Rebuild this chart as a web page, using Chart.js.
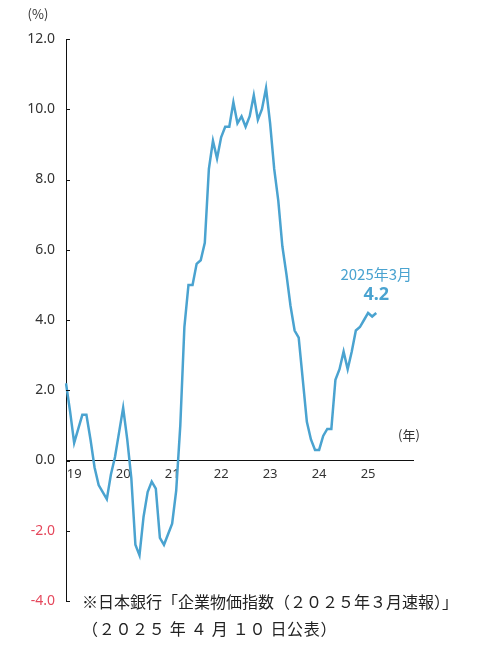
<!DOCTYPE html>
<html lang="ja">
<head>
<meta charset="utf-8">
<script src="https://cdn.jsdelivr.net/npm/chart.js@4.4.1/dist/chart.umd.min.js"></script>
<style>
  html, body { margin: 0; padding: 0; background: #fff; }
  #wrap { position: relative; width: 486px; height: 657px; }
  .note { position: absolute; left: 82px; font-family: 'Noto Sans CJK JP', sans-serif; font-size: 16px; color: #222; white-space: nowrap; line-height: 1; }
</style>
</head>
<body>
<div id="wrap">
  <canvas id="myChart" width="486" height="657"></canvas>
  <div class="note" style="top:593px">※日本銀行「企業物価指数（２０２５年３月速報）」</div>
  <div class="note" style="top:620px; letter-spacing:0.7px">（２０２５ 年 ４ 月 １０ 日公表）</div>
</div>
<script>
// x axis runs monthly from Nov 2018, a few empty months past the last value
const startYear = 2018
const startMonth = 11
const monthCount = 86
const yearTicks = ['19', '20', '21', '22', '23', '24', '25']

// 企業物価指数 前年比 (%), Nov 2018 .. Mar 2025
const cgpiYoY = [
  2.2, 1.4,
  0.5, 0.9, 1.3, 1.3, 0.6, -0.2, -0.7, -0.9, -1.1, -0.4, 0.1, 0.8,
  1.5, 0.6, -0.5, -2.4, -2.7, -1.6, -0.9, -0.6, -0.8, -2.2, -2.4, -2.1,
  -1.8, -0.85, 1.0, 3.8, 5.0, 5.0, 5.6, 5.7, 6.2, 8.3, 9.1, 8.6,
  9.2, 9.5, 9.5, 10.2, 9.6, 9.8, 9.5, 9.8, 10.4, 9.7, 10.0, 10.6,
  9.6, 8.3, 7.4, 6.1, 5.3, 4.4, 3.7, 3.5, 2.3, 1.1, 0.6, 0.3,
  0.3, 0.7, 0.9, 0.9, 2.3, 2.6, 3.1, 2.6, 3.1, 3.7, 3.8, 4.0,
  4.2, 4.1, 4.2
]
const latestLabel = '2025年3月'

const yMin = -4
const yMax = 12
const yStep = 2

const lineColor = '#4aa3d0'
const negColor = '#e5485c'
const textColor = '#333'

let monthLabels = []
for (let i = 0; i < monthCount; i++) {
  let m = startMonth - 1 + i
  let yy = startYear + Math.floor(m / 12)
  let mm = (m % 12) + 1
  monthLabels.push(yy + '-' + (mm < 10 ? '0' + mm : mm))
}

const extras = {
  id: 'extras',
  afterDraw(chart) {
    const {ctx, chartArea} = chart
    const y = chart.scales.y
    ctx.save()
    // small ticks pointing into the plot
    ctx.strokeStyle = '#111'
    ctx.lineWidth = 1
    y.ticks.forEach(t => {
      let py = Math.round(y.getPixelForValue(t.value)) + 0.5
      ctx.beginPath()
      ctx.moveTo(chartArea.left, py)
      ctx.lineTo(chartArea.left + 4, py)
      ctx.stroke()
    })
    // units
    ctx.fillStyle = textColor
    ctx.textAlign = 'center'
    ctx.textBaseline = 'middle'
    ctx.font = '13px "Noto Sans CJK JP"'
    ctx.fillText('(%)', chartArea.left - 28, chartArea.top - 25)
    ctx.fillText('(年)', chartArea.right - 4, y.getPixelForValue(0) - 25)
    // latest value callout
    const meta = chart.getDatasetMeta(0)
    const last = meta.data[meta.data.length - 1]
    ctx.fillStyle = lineColor
    ctx.font = '15px "Noto Sans CJK JP"'
    ctx.fillText(latestLabel, last.x, last.y - 39)
    ctx.font = 'bold 18px "Noto Sans"'
    ctx.fillText(cgpiYoY[cgpiYoY.length - 1].toFixed(1), last.x, last.y - 18)
    ctx.restore()
  }
}

const config = {
  type: 'line',
  data: {
    labels: monthLabels,
    datasets: [{
      label: '企業物価指数',
      data: cgpiYoY,
      borderColor: lineColor,
      borderWidth: 2.5,
      pointRadius: 0,
      tension: 0,
      fill: false
    }]
  },
  options: {
    responsive: false,
    animation: false,
    layout: { padding: { left: 0, top: 39, right: 73, bottom: 56 } },
    plugins: {
      legend: { display: false },
      tooltip: { enabled: false }
    },
    scales: {
      x: {
        type: 'category',
        position: { y: 0 },
        offset: false,
        grid: { display: false, drawTicks: false },
        border: { display: true, color: '#111', width: 1 },
        ticks: {
          autoSkip: false,
          maxRotation: 0,
          minRotation: 0,
          padding: 6,
          color: textColor,
          font: { family: 'Noto Sans', size: 13 },
          callback: function (val) {
            let lab = this.getLabelForValue(val)
            let yy = lab.slice(2, 4)
            return (lab.endsWith('-01') && yearTicks.includes(yy)) ? yy : ''
          }
        }
      },
      y: {
        min: yMin,
        max: yMax,
        afterFit: (scale) => { scale.width = 66 },
        grid: { display: false, drawTicks: false },
        border: { display: true, color: '#111', width: 1 },
        ticks: {
          stepSize: yStep,
          padding: 11,
          color: (c) => c.tick.value < 0 ? negColor : textColor,
          font: { family: 'Noto Sans', size: 14 },
          callback: (v) => v.toFixed(1)
        }
      }
    }
  },
  plugins: [extras]
}

const myChart = new Chart(document.getElementById('myChart'), config)
</script>
</body>
</html>
